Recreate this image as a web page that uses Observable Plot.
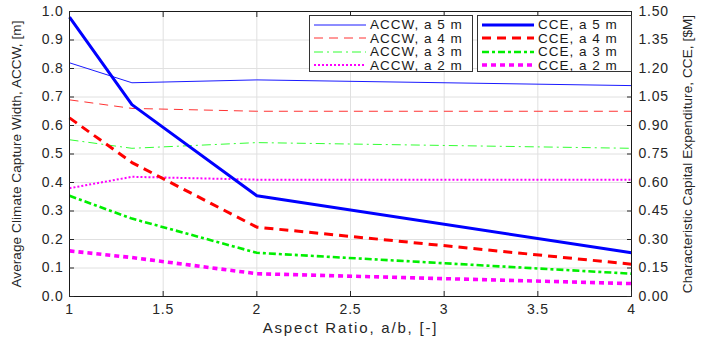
<!DOCTYPE html>
<html>
<head>
<meta charset="utf-8">
<script src="https://cdn.jsdelivr.net/npm/d3@7"></script>
<script src="https://cdn.jsdelivr.net/npm/@observablehq/plot@0.6"></script>
<style>
  html, body { margin: 0; padding: 0; background: #fff; }
  #wrap { position: relative; width: 711px; height: 337px; font-family: "Liberation Sans", Arial, sans-serif; }
  .legend { position: absolute; background: #fff; border: 1px solid #333; box-sizing: border-box; padding: 2px 4px; }
  .row { display: flex; align-items: center; height: 13.5px; line-height: 13.5px; font-size: 13.5px; letter-spacing: 1px; color: #1a1a1a; white-space: nowrap; overflow: visible; }
  .row svg { margin-right: 4px; flex: none; }
</style>
</head>
<body>
<div id="wrap"></div>
<script>
// ---- data ----
const aspectRatio = [1, 4/3, 2, 4];
const accw5 = [0.82, 0.75, 0.76, 0.74];
const accw4 = [0.69, 0.66, 0.65, 0.65];
const accw3 = [0.55, 0.52, 0.54, 0.52];
const accw2 = [0.38, 0.42, 0.41, 0.41];
const cce5 = [1.47, 1.01, 0.53, 0.23];
const cce4 = [0.94, 0.705, 0.365, 0.17];
const cce3 = [0.53, 0.41, 0.23, 0.12];
const cce2 = [0.24, 0.205, 0.12, 0.068];
const xTicks = [1, 1.5, 2, 2.5, 3, 3.5, 4];
const leftTicks = [0, 0.1, 0.2, 0.3, 0.4, 0.5, 0.6, 0.7, 0.8, 0.9, 1.0];
const rightTicks = [0, 0.15, 0.30, 0.45, 0.60, 0.75, 0.90, 1.05, 1.20, 1.35, 1.50];
const seriesNames = ["ACCW, a 5 m", "ACCW, a 4 m", "ACCW, a 3 m", "ACCW, a 2 m",
                     "CCE, a 5 m", "CCE, a 4 m", "CCE, a 3 m", "CCE, a 2 m"];
const seriesValues = [accw5, accw4, accw3, accw2, cce5, cce4, cce3, cce2];
const rightMax = 1.5; // right axis spans 0..1.5 while left spans 0..1

// ---- styles ----
const styles = [
  {stroke: "#1a1aff", width: 1, dash: null},
  {stroke: "#ff3333", width: 1, dash: "9,6"},
  {stroke: "#33ff33", width: 1, dash: "9,4,2,4"},
  {stroke: "#ff00ff", width: 2, dash: "2,2"},
  {stroke: "#0000ff", width: 3, dash: null},
  {stroke: "#ff0000", width: 3, dash: "9,6"},
  {stroke: "#00ee00", width: 2.6, dash: "7,3,3,3"},
  {stroke: "#ff00ff", width: 3.6, dash: "5,4"}
];

const lineMarks = seriesValues.map((vals, i) => {
  const isRight = i >= 4;
  const rows = aspectRatio.map((x, j) => ({x, y: isRight ? vals[j] / rightMax : vals[j]}));
  const s = styles[i];
  return Plot.line(rows, {x: "x", y: "y", stroke: s.stroke, strokeWidth: s.width,
    strokeDasharray: s.dash, strokeLinejoin: "round", strokeLinecap: "butt"});
});

const chart = Plot.plot({
  width: 711,
  height: 337,
  marginLeft: 69,
  marginRight: 80,
  marginTop: 11,
  marginBottom: 41,
  style: {fontFamily: "'Liberation Sans', Arial, sans-serif", fontSize: "14px", color: "#262626", background: "transparent", letterSpacing: "0.8px"},
  x: {domain: [1, 4]},
  y: {domain: [0, 1]},
  marks: [
    Plot.gridX(xTicks, {stroke: "#e0e0e0", strokeOpacity: 1}),
    Plot.gridY(leftTicks, {stroke: "#e0e0e0", strokeOpacity: 1}),
    ...lineMarks,
    Plot.frame({stroke: "#1a1a1a"}),
    Plot.axisX(xTicks, {anchor: "bottom", tickSize: 0, tickPadding: 8, tickFormat: d => String(d),
      label: "Aspect Ratio, a/b, [-]", labelAnchor: "center", labelOffset: 36, labelArrow: "none"}),
    Plot.axisX(xTicks, {anchor: "bottom", tickSize: -5, text: null, label: null}),
    Plot.axisX(xTicks, {anchor: "top", tickSize: -5, text: null, label: null}),
    Plot.axisY(leftTicks, {anchor: "left", tickSize: 0, tickPadding: 6, tickFormat: d => d.toFixed(1),
      label: "Average Climate Capture Width, ACCW, [m]", labelAnchor: "center", labelOffset: 58, labelArrow: "none"}),
    Plot.axisY(leftTicks, {anchor: "left", tickSize: -5, text: null, label: null}),
    Plot.axisY(rightTicks.map(v => v / rightMax), {anchor: "right", tickSize: 0, tickPadding: 7,
      tickFormat: d => (d * rightMax).toFixed(2),
      label: "Characteristic Capital Expenditure, CCE, [$M]", labelAnchor: "center", labelOffset: 60, labelArrow: "none"}),
    Plot.axisY(rightTicks.map(v => v / rightMax), {anchor: "right", tickSize: -5, text: null, label: null})
  ]
});

// axis title typography
chart.querySelectorAll('[aria-label="x-axis label"]').forEach(g => {
  g.style.fontSize = "15px"; g.style.letterSpacing = "1.8px";
});
chart.querySelectorAll('[aria-label="y-axis label"]').forEach(g => {
  g.style.fontSize = "13.5px"; g.style.letterSpacing = "0.1px";
  g.querySelectorAll("text").forEach(t => { t.style.fontSize = "13.5px"; t.style.letterSpacing = "0.1px"; });
});

const wrap = document.getElementById("wrap");
wrap.appendChild(chart);

function sample(s) {
  const ns = "http://www.w3.org/2000/svg";
  const svg = document.createElementNS(ns, "svg");
  svg.setAttribute("width", 52); svg.setAttribute("height", 10);
  const l = document.createElementNS(ns, "line");
  l.setAttribute("x1", 0); l.setAttribute("x2", 52); l.setAttribute("y1", 5); l.setAttribute("y2", 5);
  l.setAttribute("stroke", s.stroke); l.setAttribute("stroke-width", s.width);
  if (s.dash) l.setAttribute("stroke-dasharray", s.dash);
  svg.appendChild(l);
  return svg;
}
function legendBox(idx, left, width) {
  const box = document.createElement("div");
  box.className = "legend";
  box.style.left = left + "px"; box.style.top = "15px";
  box.style.width = width + "px"; box.style.height = "57px";
  idx.forEach(i => {
    const r = document.createElement("div"); r.className = "row";
    r.appendChild(sample(styles[i]));
    const t = document.createElement("span"); t.textContent = seriesNames[i];
    r.appendChild(t);
    box.appendChild(r);
  });
  wrap.appendChild(box);
}
legendBox([0,1,2,3], 309, 164);
legendBox([4,5,6,7], 477, 155);
</script>
</body>
</html>
